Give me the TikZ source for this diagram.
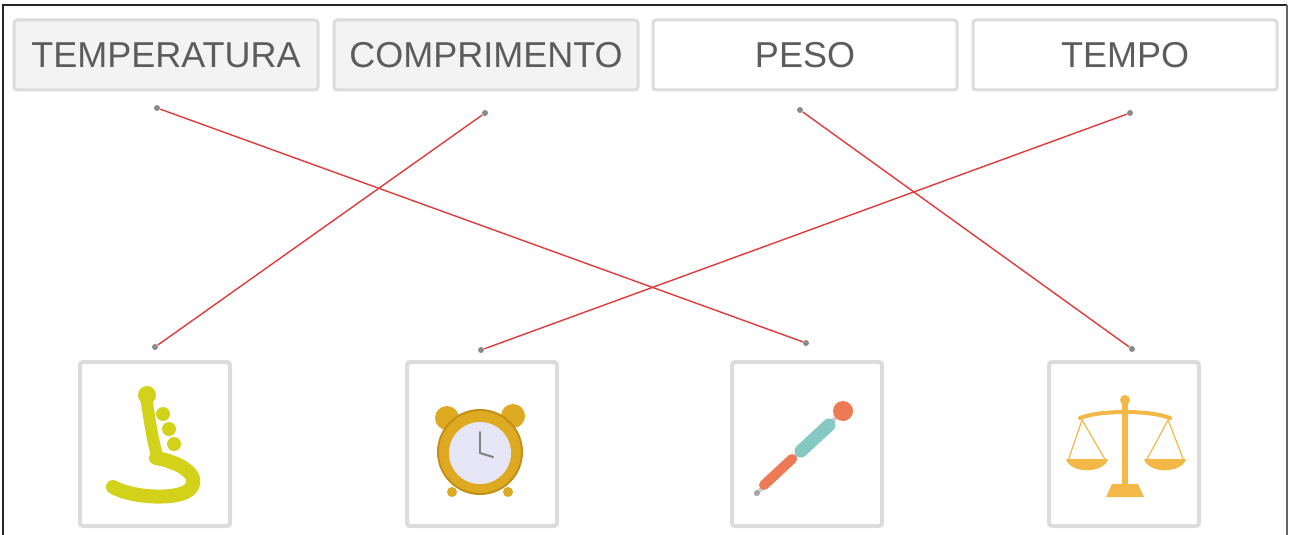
\documentclass[tikz,border=0pt]{standalone}
\usepackage{fontspec}
\setmainfont{Liberation Sans}
\definecolor{linkred}{HTML}{E03A3A}
\definecolor{boxline}{HTML}{DCDCDC}
\definecolor{boxfill}{HTML}{F3F3F3}
\definecolor{labelgray}{HTML}{5C5C5C}
\definecolor{dotgray}{HTML}{8A8A8A}
\definecolor{tapeyellow}{HTML}{D2D21A}
\definecolor{clockgold}{HTML}{DDAA22}
\definecolor{clockedge}{HTML}{C29018}
\definecolor{clockface}{HTML}{E6E6F6}
\definecolor{thermorange}{HTML}{EE7A55}
\definecolor{thermteal}{HTML}{86C8C2}
\definecolor{scalegold}{HTML}{F4B848}
\begin{document}
\begin{tikzpicture}[x=0.5pt,y=-0.5pt,
  wordbox/.style={draw=boxline, line width=1.5pt, rounded corners=1.5pt,
    minimum width=152pt, minimum height=35pt, inner sep=0pt,
    font=\fontsize{18}{20}\selectfont, text=labelgray},
  picbox/.style={draw=boxline, line width=2pt, rounded corners=1.5pt,
    minimum width=75pt, minimum height=82pt, inner sep=0pt},
  enddot/.style={circle, fill=dotgray, inner sep=0pt, minimum size=3pt},
  link/.style={draw=linkred, line width=0.7pt}]
\useasboundingbox (0,0) rectangle (1290,535);

% outer frame
\draw[line width=1.2pt, black!85] (3,540) -- (3,5) -- (1287,5);
\draw[line width=0.6pt, black!60] (1287,5) -- (1287,540);

% word boxes
\node[wordbox, fill=boxfill] (temp) at (166,55) {TEMPERATURA};
\node[wordbox, fill=boxfill] (comp) at (486,55) {COMPRIMENTO};
\node[wordbox, fill=white]   (peso) at (805,55) {PESO};
\node[wordbox, fill=white]   (tempo) at (1125,55) {TEMPO};

% picture boxes
\node[picbox] (tape)  at (155,444) {};
\node[picbox] (clock) at (482,444) {};
\node[picbox] (therm) at (807,444) {};
\node[picbox] (scale) at (1124,444) {};

% connector ends
\node[enddot] (t1) at (157,108) {};
\node[enddot] (t2) at (485,113) {};
\node[enddot] (t3) at (800,110) {};
\node[enddot] (t4) at (1130,113) {};
\node[enddot] (b1) at (155,347) {};
\node[enddot] (b2) at (481,350) {};
\node[enddot] (b3) at (806,343) {};
\node[enddot] (b4) at (1132,349) {};

% matching lines
\draw[link] (t1) -- (b3);
\draw[link] (t2) -- (b1);
\draw[link] (t3) -- (b4);
\draw[link] (t4) -- (b2);

% tape measure
\begin{scope}[color=tapeyellow, line cap=round]
  \fill (147,395) circle (9);
  \fill (163,414) circle (7);
  \fill (169,429) circle (7);
  \fill (174,444) circle (7);
  \draw[line width=6pt] (146,398) .. controls (150,420) and (152,440) .. (158,458);
  \draw[line width=7pt] (156,458) .. controls (190,464) and (203,482) .. (186,492)
        .. controls (170,500) and (130,497) .. (113,487);
\end{scope}

% alarm clock
\fill[clockgold] (447,418) circle (12);
\fill[clockgold] (513,416) circle (12);
\fill[clockgold] (452,492) circle (5);
\fill[clockgold] (508,492) circle (5);
\filldraw[fill=clockgold, draw=clockedge, line width=1pt] (480,452) circle (42);
\fill[clockface] (480,453) circle (31);
\draw[gray, line width=1pt, line cap=round] (480,453) -- (480,432);
\draw[gray, line width=1pt, line cap=round] (480,453) -- (493,457);

% thermometer
\draw[gray!40, line width=2pt, line cap=round] (756,494) -- (843,411);
\draw[thermorange, line width=5pt, line cap=round] (764,485) -- (792,459);
\draw[thermteal, line width=6.5pt, line cap=round] (801,451) -- (829,425);
\fill[thermorange] (843,411) circle (10);
\fill[gray!70] (757,493) circle (3);

% balance scale
\begin{scope}[color=scalegold]
  \draw[line width=3pt] (1125,404) -- (1125,488);
  \fill (1125,400) circle (5);
  \fill (1106,497) -- (1112,484) -- (1138,484) -- (1144,497) -- cycle;
  \draw[line width=2pt, line cap=round] (1080,418) .. controls (1100,410) and (1150,410) .. (1170,418);
  \draw[line width=0.6pt] (1082,420) -- (1068,461) (1082,420) -- (1106,461);
  \draw[line width=0.6pt] (1168,420) -- (1146,461) (1168,420) -- (1184,461);
  \fill (1066,459) .. controls (1070,474) and (1104,474) .. (1108,459) -- cycle;
  \fill (1144,459) .. controls (1148,474) and (1182,474) .. (1186,459) -- cycle;
\end{scope}
\end{tikzpicture}
\end{document}
